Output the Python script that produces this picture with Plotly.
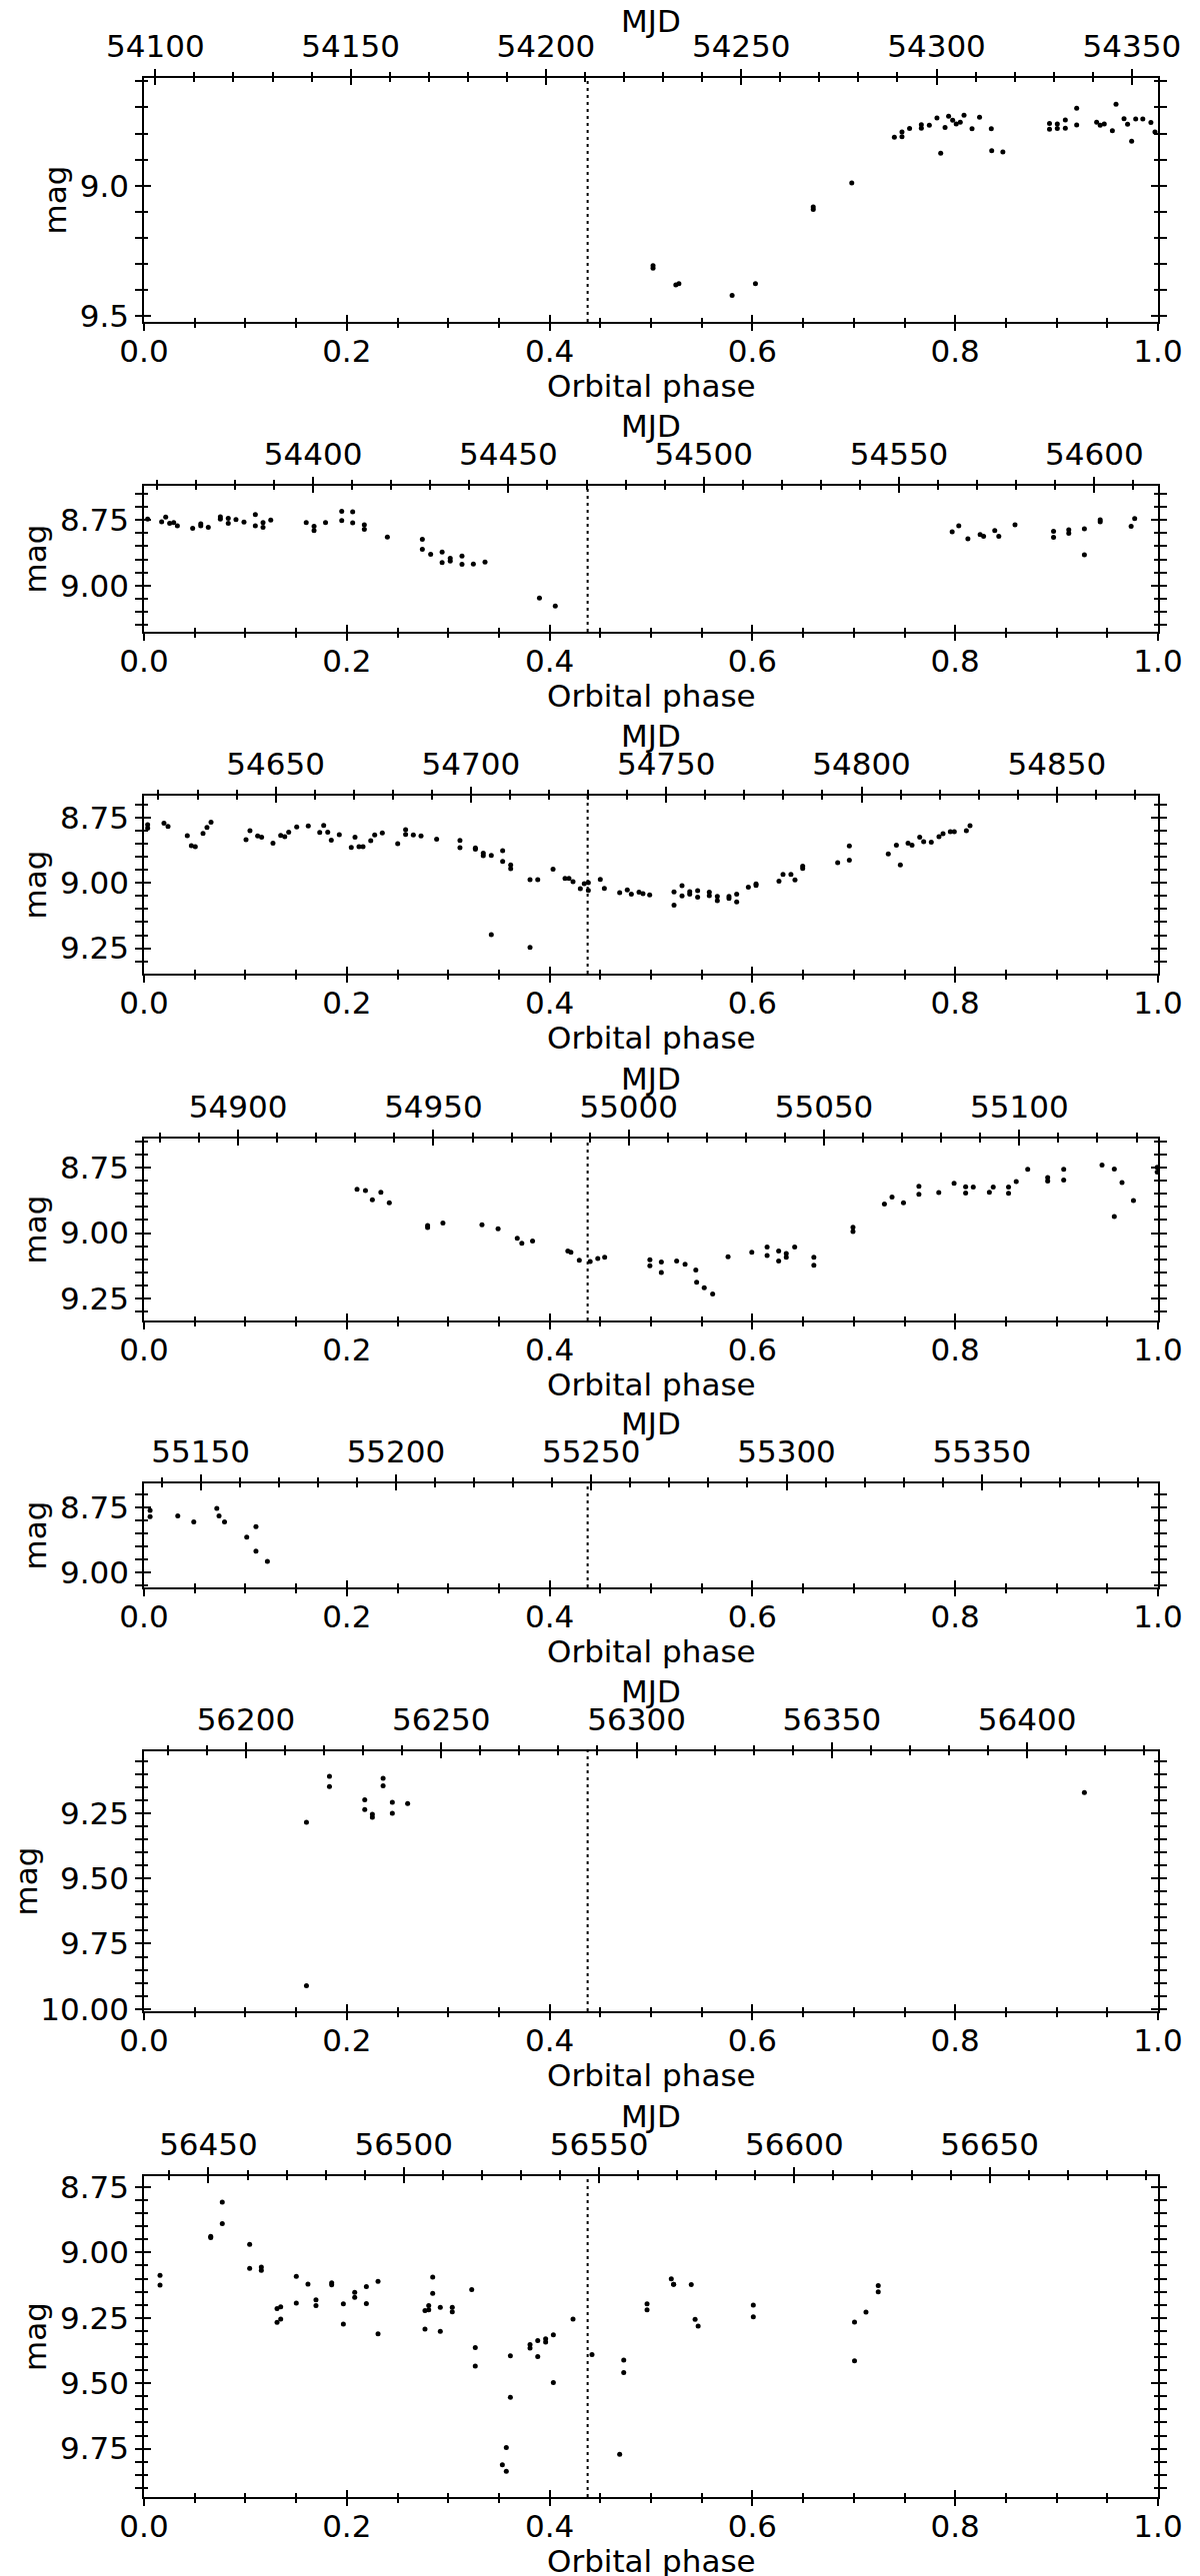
import plotly.graph_objects as go

# ---------------- data ----------------
PERIOD = 259.6          # orbital period (d)
T0 = 54097.1            # MJD of phase 0 for cycle 0
CYCLES = [0, 1, 2, 3, 4, 8, 9]
PERIASTRON_PHASE = 0.4375

phase_c0 = [0.502, 0.502, 0.5245, 0.5275, 0.580, 0.603, 0.660, 0.660, 0.698,
            0.740, 0.7475, 0.7475, 0.755, 0.7666, 0.7666, 0.7745, 0.782, 0.7857, 0.790,
            0.7935, 0.7975, 0.801, 0.805, 0.8087, 0.8166, 0.824, 0.8356, 0.836, 0.847,
            0.893, 0.893, 0.9007, 0.9007, 0.9086, 0.9086, 0.9198, 0.9198, 0.9395, 0.943,
            0.947, 0.955, 0.9586, 0.9665, 0.970, 0.974, 0.978, 0.985, 0.993, 0.997]
mag_c0 = [9.307, 9.317, 9.381, 9.376, 9.421, 9.376, 9.082, 9.091, 8.990,
          8.814, 8.812, 8.794, 8.781, 8.780, 8.766, 8.768, 8.740, 8.876, 8.777,
          8.734, 8.749, 8.763, 8.757, 8.730, 8.782, 8.738, 8.782, 8.866, 8.871,
          8.762, 8.784, 8.763, 8.781, 8.748, 8.780, 8.703, 8.767, 8.757, 8.768,
          8.763, 8.789, 8.688, 8.743, 8.764, 8.830, 8.744, 8.744, 8.758, 8.794]

phase_c1 = [0.0036, 0.0174, 0.0214, 0.0253, 0.0293, 0.0329, 0.048, 0.056, 0.056, 0.0634,
            0.0753, 0.0753, 0.0831, 0.0831, 0.0907, 0.0986, 0.1098, 0.1098, 0.1174, 0.1174,
            0.125, 0.160, 0.1677, 0.1677, 0.179, 0.195, 0.195, 0.2058, 0.2058, 0.2173,
            0.2173, 0.240, 0.2745, 0.2745, 0.2827, 0.294, 0.294, 0.302, 0.302, 0.3136,
            0.3136, 0.3248, 0.3363, 0.390, 0.4056,
            0.797, 0.8035, 0.8125, 0.8246, 0.828, 0.839, 0.843, 0.859, 0.897, 0.897,
            0.912, 0.912, 0.9274, 0.9274, 0.943, 0.943, 0.9735, 0.977]
mag_c1 = [8.7475, 8.758, 8.740, 8.763, 8.760, 8.773, 8.782, 8.765, 8.773, 8.778,
          8.739, 8.7475, 8.744, 8.763, 8.749, 8.759, 8.730, 8.773, 8.760, 8.778,
          8.751, 8.760, 8.775, 8.791, 8.760, 8.718, 8.753, 8.720, 8.761, 8.769,
          8.786, 8.815, 8.824, 8.862, 8.881, 8.872, 8.912, 8.896, 8.907, 8.888,
          8.919, 8.918, 8.910, 9.047, 9.077,
          8.796, 8.773, 8.822, 8.806, 8.813, 8.791, 8.813, 8.769, 8.794, 8.816,
          8.788, 8.801, 8.784, 8.883, 8.758, 8.750, 8.775, 8.745]

phase_c2 = [0.0036, 0.0036, 0.0197, 0.0237, 0.0427, 0.0467, 0.0506, 0.0582, 0.0621, 0.0661,
            0.1006, 0.1045, 0.1121, 0.1160, 0.1272, 0.1348, 0.1388, 0.1427, 0.1506, 0.162,
            0.1733, 0.1772, 0.1812, 0.1847, 0.1926, 0.2044, 0.2081, 0.212, 0.216, 0.2236,
            0.2275, 0.235, 0.2502, 0.258, 0.258, 0.2656, 0.2732, 0.2886, 0.3116, 0.3116,
            0.3268, 0.3268, 0.3346, 0.3346, 0.3425, 0.3425, 0.3537, 0.3537, 0.3616, 0.3616,
            0.3807, 0.3807, 0.3883, 0.4034, 0.4152, 0.4191, 0.4231, 0.4303, 0.4342, 0.4382,
            0.4382, 0.45, 0.454, 0.4691, 0.4766, 0.4806, 0.4882, 0.4921, 0.4987,
            0.5227, 0.5227, 0.5306, 0.5306, 0.5382, 0.5382, 0.546, 0.546, 0.5575, 0.5575,
            0.5654, 0.5654, 0.5769, 0.5769, 0.5845, 0.5845, 0.596, 0.6036, 0.6036, 0.6262,
            0.6302, 0.638, 0.642, 0.6496, 0.6496, 0.6841, 0.6956, 0.6956, 0.734, 0.742,
            0.7459, 0.7535, 0.7574, 0.765, 0.7689, 0.7764, 0.784, 0.788, 0.7952, 0.7991,
            0.811, 0.8146]
mag_c2 = [8.778, 8.791, 8.772, 8.784, 8.820, 8.858, 8.862, 8.811, 8.788, 8.768,
          8.835, 8.801, 8.821, 8.826, 8.848, 8.819, 8.824, 8.806, 8.786, 8.783,
          8.807, 8.781, 8.806, 8.837, 8.816, 8.865, 8.826, 8.862, 8.862, 8.839,
          8.817, 8.809, 8.850, 8.797, 8.815, 8.817, 8.821, 8.833, 8.838, 8.866,
          8.867, 8.871, 8.887, 8.896, 8.895, 9.198, 8.877, 8.918, 8.932, 8.946,
          8.988, 9.247, 8.988, 8.948, 8.983, 8.983, 8.996, 9.022, 9.003, 8.999,
          9.029, 8.987, 9.021, 9.038, 9.027, 9.043, 9.036, 9.041, 9.046,
          9.035, 9.085, 9.011, 9.050, 9.034, 9.043, 9.030, 9.055, 9.036, 9.049,
          9.052, 9.068, 9.052, 9.060, 9.043, 9.073, 9.017, 9.004, 9.010, 8.994,
          8.968, 8.968, 8.989, 8.936, 8.945, 8.923, 8.859, 8.913, 8.890, 8.856,
          8.932, 8.848, 8.856, 8.826, 8.843, 8.845, 8.824, 8.812, 8.805, 8.805,
          8.801, 8.782]

phase_c3 = [0.2101, 0.2184, 0.2252, 0.2336, 0.2419, 0.2797, 0.2797, 0.2948, 0.3333, 0.3492,
            0.3681, 0.3726, 0.3832, 0.418, 0.421, 0.4293, 0.440, 0.4475, 0.4543, 0.4989,
            0.4989, 0.5102, 0.5102, 0.5253, 0.5336, 0.5442, 0.545, 0.5525, 0.5608, 0.576,
            0.5994, 0.6145, 0.6145, 0.6259, 0.6259, 0.6334, 0.6334, 0.6417, 0.6606, 0.6606,
            0.6992, 0.6992, 0.7302, 0.7377, 0.749, 0.7642, 0.7642, 0.7838, 0.7989, 0.8103,
            0.8103, 0.8178, 0.8337, 0.8375, 0.8526, 0.8526, 0.8602, 0.8715, 0.8912, 0.8912,
            0.907, 0.907, 0.9448, 0.9569, 0.9569, 0.9645, 0.9758, 0.9992, 0.9992]
mag_c3 = [8.833, 8.838, 8.873, 8.844, 8.884, 8.971, 8.979, 8.962, 8.968, 8.984,
          9.020, 9.039, 9.030, 9.069, 9.073, 9.104, 9.109, 9.097, 9.092, 9.102,
          9.125, 9.111, 9.151, 9.107, 9.119, 9.141, 9.188, 9.209, 9.233, 9.091,
          9.073, 9.053, 9.086, 9.069, 9.107, 9.078, 9.092, 9.053, 9.092, 9.123,
          8.978, 8.994, 8.889, 8.862, 8.884, 8.821, 8.852, 8.845, 8.810, 8.823,
          8.847, 8.824, 8.844, 8.824, 8.824, 8.848, 8.803, 8.756, 8.788, 8.801,
          8.756, 8.797, 8.740, 8.755, 8.937, 8.807, 8.876, 8.749, 8.767]

phase_c4 = [0.006, 0.006, 0.0333, 0.0491, 0.0718, 0.074, 0.0794, 0.1013, 0.1104, 0.1104, 0.1217]
mag_c4 = [8.763, 8.787, 8.784, 8.807, 8.755, 8.784, 8.807, 8.866, 8.825, 8.920, 8.959]

phase_c8 = [0.1602, 0.1602, 0.1829, 0.1829, 0.2177, 0.2177, 0.2252, 0.2252, 0.2358, 0.2358,
            0.2449, 0.2449, 0.260, 0.9274]
mag_c8 = [9.284, 9.911, 9.108, 9.147, 9.198, 9.235, 9.254, 9.265, 9.116, 9.144,
          9.208, 9.250, 9.212, 9.170]

phase_c9 = [0.0158, 0.0158, 0.0658, 0.0658, 0.0772, 0.0772, 0.1042, 0.1042, 0.1157, 0.1157,
            0.1312, 0.1312, 0.1348, 0.1348, 0.1502, 0.1502, 0.1617, 0.1696, 0.1696, 0.1851,
            0.1851, 0.1966, 0.1966, 0.2078, 0.2078, 0.2193, 0.2193, 0.2308, 0.2308, 0.2771,
            0.2771, 0.2808, 0.2808, 0.2847, 0.2847, 0.2922, 0.2922, 0.304, 0.304, 0.3232,
            0.3267, 0.3267, 0.3534, 0.3573, 0.3573, 0.3613, 0.3613, 0.3807, 0.3807, 0.3883,
            0.3883, 0.3961, 0.3961, 0.4037, 0.4037, 0.4231, 0.4418, 0.4691, 0.4731, 0.4731,
            0.4961, 0.4961, 0.520, 0.5223, 0.5223, 0.5397, 0.5435, 0.5465, 0.6009, 0.6009,
            0.7007, 0.7007, 0.712, 0.7241, 0.7241]
mag_c9 = [9.087, 9.125, 8.938, 8.943, 8.807, 8.890, 8.969, 9.061, 9.056, 9.068,
          9.214, 9.267, 9.208, 9.255, 9.091, 9.193, 9.121, 9.181, 9.203, 9.116,
          9.124, 9.196, 9.274, 9.152, 9.171, 9.130, 9.195, 9.110, 9.311, 9.222,
          9.293, 9.203, 9.219, 9.094, 9.156, 9.210, 9.301, 9.210, 9.227, 9.142,
          9.364, 9.434, 9.812, 9.837, 9.746, 9.395, 9.554, 9.352, 9.365, 9.337,
          9.398, 9.330, 9.343, 9.315, 9.497, 9.255, 9.390, 9.772, 9.411, 9.459,
          9.196, 9.219, 9.101, 9.122, 9.122, 9.123, 9.256, 9.281, 9.201, 9.246,
          9.266, 9.414, 9.228, 9.127, 9.150]

PANEL_PHASES = [phase_c0, phase_c1, phase_c2, phase_c3, phase_c4, phase_c8, phase_c9]
PANEL_MAGS = [mag_c0, mag_c1, mag_c2, mag_c3, mag_c4, mag_c8, mag_c9]

# y-axis (mag) limits, bottom -> top (reversed magnitude axis)
MAG_RANGES = [(9.523, 8.587), (9.175, 8.621), (9.347, 8.667), (9.334, 8.639),
              (9.059, 8.659), (10.009, 9.012), (9.935, 8.708)]
MAG_DTICK = [0.5, 0.25, 0.25, 0.25, 0.25, 0.25, 0.25]
MAG_MINOR = [0.1, 0.05, 0.05, 0.05, 0.05, 0.05, 0.05]
MAG_FMT = [".1f", ".2f", ".2f", ".2f", ".2f", ".2f", ".2f"]

# ---------------- layout (page pixels) ----------------
W, H = 1200, 2577
PAGE_OFF = 8            # default <body> margin of the html page
X_LEFT, X_RIGHT = 144, 1158
PANEL_PX = [(78, 322), (486, 632), (796, 974), (1139, 1321), (1484, 1588), (1752, 2012), (2177, 2498)]
XTITLE_GAP = 64                          # spine -> centre of "Orbital phase"
MJD_GAP = [57, 60, 60, 60, 60, 60, 60]   # spine -> centre of "MJD"

FONT = dict(family="DejaVu Sans", size=31, color="black")
MAJ_LEN, MIN_LEN, TW = 7, 4, 1.5

fig = go.Figure()
layout = dict(width=W, height=H, margin=dict(l=0, r=0, t=0, b=0, autoexpand=False),
              paper_bgcolor="white", plot_bgcolor="white", showlegend=False,
              font=FONT, shapes=[], annotations=[])

def ax_name(kind, n):
    return f"{kind}axis" if n == 1 else f"{kind}axis{n}"

def ax_ref(kind, n):
    return kind if n == 1 else f"{kind}{n}"

def px_x(x):
    return (x - PAGE_OFF) / W

def px_y(y):
    return 1 - (y - PAGE_OFF) / H

xdom = [px_x(X_LEFT), px_x(X_RIGHT)]
xmid = px_x((X_LEFT + X_RIGHT) / 2)

for i, cyc in enumerate(CYCLES):
    top_px, bot_px = PANEL_PX[i]
    ydom = [px_y(bot_px), px_y(top_px)]
    kx = 4 * i + 1
    ky = 2 * i + 1
    xr, yr = ax_ref("x", kx), ax_ref("y", ky)
    mjd0 = T0 + cyc * PERIOD
    mjd1 = mjd0 + PERIOD

    common = dict(showgrid=False, zeroline=False, tickwidth=TW, tickcolor="black",
                  tickfont=FONT, automargin=False)
    # bottom phase axis (outside ticks + labels)
    layout[ax_name("x", kx)] = dict(
        common, domain=xdom, anchor=yr, side="bottom", range=[0, 1], autorange=False,
        dtick=0.2, tick0=0, tickformat=".1f", ticks="outside", ticklen=MAJ_LEN,
        ticklabelstandoff=-6,
        minor=dict(dtick=0.05, tick0=0, ticks="outside", ticklen=MIN_LEN, tickwidth=TW, tickcolor="black"),
        showline=True, linecolor="black", linewidth=2)
    # bottom phase axis (inside ticks)
    layout[ax_name("x", kx + 1)] = dict(
        common, overlaying=xr, anchor=yr, side="bottom", range=[0, 1], autorange=False,
        dtick=0.2, tick0=0, ticks="inside", ticklen=MAJ_LEN, showticklabels=False,
        minor=dict(dtick=0.05, tick0=0, ticks="inside", ticklen=MIN_LEN, tickwidth=TW, tickcolor="black"),
        showline=False)
    # top MJD axis
    layout[ax_name("x", kx + 2)] = dict(
        common, overlaying=xr, anchor=yr, side="top", range=[mjd0, mjd1], autorange=False,
        dtick=50, tick0=0, tickformat="d", ticks="outside", ticklen=MAJ_LEN,
        minor=dict(dtick=10, tick0=0, ticks="outside", ticklen=MIN_LEN, tickwidth=TW, tickcolor="black"),
        showline=True, linecolor="black", linewidth=2)
    layout[ax_name("x", kx + 3)] = dict(
        common, overlaying=xr, anchor=yr, side="top", range=[mjd0, mjd1], autorange=False,
        dtick=50, tick0=0, ticks="inside", ticklen=MAJ_LEN, showticklabels=False,
        minor=dict(dtick=10, tick0=0, ticks="inside", ticklen=MIN_LEN, tickwidth=TW, tickcolor="black"),
        showline=False)
    # y axes
    yrange = list(MAG_RANGES[i])
    layout[ax_name("y", ky)] = dict(
        common, domain=ydom, anchor=xr, side="left", range=yrange, autorange=False,
        dtick=MAG_DTICK[i], tick0=0, tickformat=MAG_FMT[i], ticks="outside", ticklen=MAJ_LEN,
        minor=dict(dtick=MAG_MINOR[i], tick0=0, ticks="outside", ticklen=MIN_LEN, tickwidth=TW, tickcolor="black"),
        showline=True, linecolor="black", linewidth=1.5, mirror="allticks",
        title=dict(text="mag", font=FONT, standoff=4))
    layout[ax_name("y", ky + 1)] = dict(
        common, overlaying=yr, anchor=xr, side="left", range=yrange, autorange=False,
        dtick=MAG_DTICK[i], tick0=0, ticks="inside", ticklen=MAJ_LEN, showticklabels=False,
        minor=dict(dtick=MAG_MINOR[i], tick0=0, ticks="inside", ticklen=MIN_LEN, tickwidth=TW, tickcolor="black"),
        showline=False, mirror="allticks")

    # axis titles placed explicitly
    layout["annotations"].append(dict(text="Orbital phase", xref="paper", yref="paper",
                                      x=xmid, y=px_y(bot_px + XTITLE_GAP), xanchor="center",
                                      yanchor="middle", showarrow=False, font=FONT))
    layout["annotations"].append(dict(text="MJD", xref="paper", yref="paper",
                                      x=xmid, y=px_y(top_px - MJD_GAP[i]), xanchor="center",
                                      yanchor="middle", showarrow=False, font=FONT))

    ph, mg = PANEL_PHASES[i], PANEL_MAGS[i]
    mjd = [mjd0 + p * PERIOD for p in ph]
    # invisible copies so that the overlaid (twin) axes are rendered
    for (xa, ya, xs) in [(ax_ref("x", kx + 1), ax_ref("y", ky + 1), ph),
                         (ax_ref("x", kx + 2), yr, mjd),
                         (ax_ref("x", kx + 3), yr, mjd)]:
        fig.add_trace(go.Scatter(x=xs, y=mg, mode="markers", xaxis=xa, yaxis=ya,
                                 marker=dict(color="black", size=4.5, opacity=0),
                                 hoverinfo="skip"))
    fig.add_trace(go.Scatter(x=ph, y=mg, mode="markers",
                             marker=dict(color="black", size=5), xaxis=xr, yaxis=yr,
                             hoverinfo="skip"))
    layout["shapes"].append(dict(type="line", xref=xr, x0=PERIASTRON_PHASE, x1=PERIASTRON_PHASE,
                                 yref=f"{yr} domain", y0=0, y1=1,
                                 line=dict(color="black", width=2, dash="3px,4px")))

fig.update_layout(**layout)
fig.write_html("out.html")
